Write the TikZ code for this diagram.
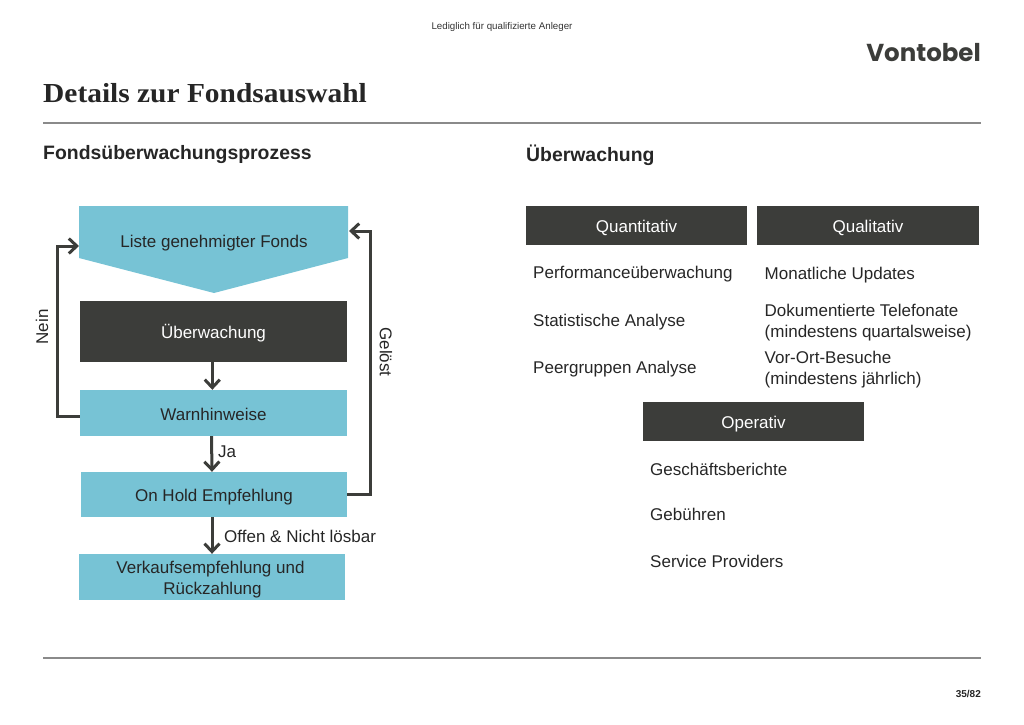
\documentclass[tikz,border=0pt]{standalone}
\usepackage{fontspec}
\setmainfont{Liberation Sans}
\newfontfamily\titlefont[FakeStretch=1.07]{Liberation Serif}
\newfontfamily\logofont{Poppins}
\usepackage{xcolor}
\usetikzlibrary{arrows.meta,positioning,calc}
\definecolor{vontoblue}{HTML}{77C3D5}
\definecolor{vontodark}{HTML}{3C3D3A}
\definecolor{vontorule}{HTML}{8A8A8A}
\tikzset{
	flowbox/.style={fill=vontoblue, text=black!85, font=\fontsize{17}{20}\selectfont, inner sep=0pt, text height=14pt, text depth=0pt},
	darkbox/.style={fill=vontodark, text=white, font=\fontsize{17}{20}\selectfont, inner sep=0pt, text height=14pt, text depth=0pt},
	flowarrow/.style={draw=vontodark, line width=3pt, -{Straight Barb[length=8pt,width=15pt,line width=3pt]}},
	bodytext/.style={text=black!85, font=\fontsize{17}{21}\selectfont, align=left, anchor=west, inner sep=0pt},
	hrule/.style={draw=vontorule, line width=1.3pt},
}
\begin{document}
\begin{tikzpicture}[x=1pt,y=-1pt]
		\useasboundingbox (0,0) rectangle (1024,724);

		\node[font=\fontsize{9.75}{12}\selectfont, text=black!80] (note) at (502,26.5) {Lediglich für qualifizierte Anleger};
		\node[font=\logofont\bfseries\fontsize{24.5}{30}\selectfont, text=vontodark, anchor=east, inner sep=0pt] (logo) at (981,53) {Vontobel};
		\node[font=\titlefont\bfseries\fontsize{27.5}{30}\selectfont, text=black!85, anchor=west, inner sep=0pt] (title) at (43,93) {Details zur Fondsauswahl};
		\coordinate (ruletopl) at (43,123);
		\coordinate (ruletopr) at (981,123);
		\draw[hrule] (ruletopl) -- (ruletopr);

		\node[font=\bfseries\fontsize{19.4}{22}\selectfont, text=black!85, anchor=west, inner sep=0pt] (headleft) at (43,154.5) {Fondsüberwachungsprozess};
		\node[font=\bfseries\fontsize{19.4}{24}\selectfont, text=black!85, anchor=west, inner sep=0pt] (headright) at (526,155) {Überwachung};

		\fill[vontoblue] (79,206) -- (348,206) -- (348,258) -- (214,293) -- (79,258) -- cycle;
		\node[font=\fontsize{17}{20}\selectfont, text=black!85, inner sep=0pt] (liste) at (214,243) {Liste genehmigter Fonds};
		\coordinate (listel) at (79,246);
		\coordinate (lister) at (349,231);
		\node[darkbox, minimum width=267pt, minimum height=61pt] (ueberw) at (213.5,331.5) {Überwachung};
		\node[flowbox, minimum width=267pt, minimum height=46pt] (warn) at (213.5,413) {Warnhinweise};
		\node[flowbox, minimum width=266pt, minimum height=45pt] (hold) at (214,494.5) {On Hold Empfehlung};
		\node[flowbox, minimum width=266pt, minimum height=46pt] (verkauf) at (212,577) {};
		\node[font=\fontsize{17}{21}\selectfont, text=black!85, align=center, inner sep=0pt] (verkauftext) at (210.5,580) {Verkaufsempfehlung und\\\hspace*{4pt}Rückzahlung};

		\coordinate (neinmid) at (57,416);
		\coordinate (geloestmid) at (370,494.5);
		\draw[flowarrow] ([yshift=-3pt]warn.west) -- (neinmid) |- (listel);
		\draw[flowarrow] (hold.east) -- (geloestmid) |- (lister);
		\draw[flowarrow] ([xshift=-1.2pt]ueberw.south) -- ([xshift=-1.2pt]warn.north);
		\draw[flowarrow] ([xshift=-2pt]warn.south) -- ([xshift=-2pt]hold.north);
		\draw[flowarrow] ([xshift=-2pt]hold.south) -- (verkauf.north);

		\node[bodytext, rotate=90, anchor=center] (nein) at (42,327) {Nein};
		\node[bodytext, rotate=-90, anchor=center] (geloest) at (386,352) {Gelöst};
		\node[bodytext] (ja) at (218,452) {Ja};
		\node[bodytext] (offen) at (224,536) {Offen \& Nicht lösbar};

		\node[darkbox, minimum width=221pt, minimum height=39pt] (quant) at (636.5,225.5) {Quantitativ};
		\node[darkbox, minimum width=222pt, minimum height=39pt] (qual) at (868,225.5) {Qualitativ};
		\node[darkbox, minimum width=221pt, minimum height=39pt] (oper) at (753.5,421.5) {Operativ};

		\node[bodytext] (perf) at (533,274) {Performanceüberwachung};
		\node[bodytext] (stat) at (533,322) {Statistische Analyse};
		\node[bodytext] (peer) at (533,369) {Peergruppen Analyse};
		\node[bodytext] (updates) at (764.5,275) {Monatliche Updates};
		\node[bodytext] (telefon) at (764.5,322.5) {Dokumentierte Telefonate\\(mindestens quartalsweise)};
		\node[bodytext] (besuche) at (764.5,370) {Vor-Ort-Besuche\\(mindestens jährlich)};
		\node[bodytext] (berichte) at (650,469) {Geschäftsberichte};
		\node[bodytext] (gebuehren) at (650,514) {Gebühren};
		\node[bodytext] (service) at (650,561) {Service Providers};

		\coordinate (rulebotl) at (43,658);
		\coordinate (rulebotr) at (981,658);
		\draw[hrule] (rulebotl) -- (rulebotr);
		\node[font=\bfseries\fontsize{10}{12}\selectfont, text=black!85, anchor=east, inner sep=0pt] (page) at (981,694) {35/82};
	\end{tikzpicture}
\end{document}
